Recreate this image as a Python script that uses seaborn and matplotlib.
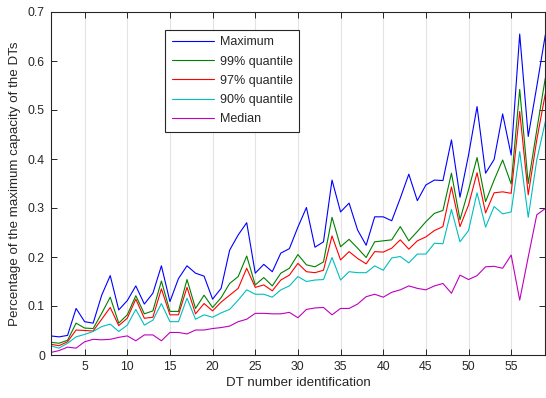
import matplotlib
matplotlib.use("Agg")
import matplotlib.pyplot as plt
import pandas as pd
import seaborn as sns

# DT identifiers on the x axis
dt_ids = list(range(1, 60))

# Share of the maximum DT capacity, per statistic
maximum = [0.039, 0.037, 0.040, 0.095, 0.068, 0.065, 0.122, 0.162, 0.092, 0.111,
           0.141, 0.104, 0.126, 0.182, 0.109, 0.156, 0.182, 0.167, 0.161, 0.114,
           0.136, 0.214, 0.245, 0.270, 0.167, 0.185, 0.170, 0.208, 0.217, 0.261,
           0.301, 0.220, 0.231, 0.357, 0.292, 0.310, 0.255, 0.224, 0.282, 0.282,
           0.274, 0.320, 0.369, 0.315, 0.347, 0.357, 0.356, 0.439, 0.322, 0.408,
           0.507, 0.371, 0.399, 0.492, 0.408, 0.655, 0.446, 0.548, 0.653]
q99 = [0.026, 0.024, 0.030, 0.065, 0.055, 0.054, 0.085, 0.118, 0.065, 0.082,
       0.121, 0.084, 0.090, 0.151, 0.089, 0.089, 0.154, 0.095, 0.122, 0.097,
       0.117, 0.146, 0.160, 0.202, 0.143, 0.158, 0.141, 0.167, 0.177, 0.205,
       0.184, 0.180, 0.190, 0.281, 0.221, 0.236, 0.218, 0.199, 0.231, 0.233,
       0.235, 0.262, 0.233, 0.252, 0.272, 0.289, 0.295, 0.371, 0.276, 0.337,
       0.403, 0.313, 0.357, 0.398, 0.349, 0.542, 0.350, 0.459, 0.565]
q97 = [0.022, 0.019, 0.027, 0.051, 0.050, 0.049, 0.073, 0.097, 0.060, 0.075,
       0.114, 0.075, 0.077, 0.135, 0.082, 0.082, 0.138, 0.084, 0.105, 0.090,
       0.108, 0.122, 0.136, 0.177, 0.138, 0.143, 0.131, 0.153, 0.163, 0.187,
       0.170, 0.168, 0.173, 0.243, 0.194, 0.211, 0.197, 0.186, 0.211, 0.210,
       0.218, 0.235, 0.216, 0.233, 0.241, 0.254, 0.262, 0.343, 0.262, 0.306,
       0.372, 0.290, 0.331, 0.333, 0.330, 0.497, 0.327, 0.439, 0.533]
q90 = [0.019, 0.014, 0.024, 0.037, 0.042, 0.048, 0.058, 0.063, 0.048, 0.061,
       0.093, 0.061, 0.071, 0.105, 0.068, 0.068, 0.116, 0.073, 0.082, 0.077,
       0.086, 0.093, 0.112, 0.133, 0.124, 0.124, 0.118, 0.133, 0.141, 0.160,
       0.150, 0.153, 0.154, 0.199, 0.153, 0.170, 0.168, 0.168, 0.182, 0.173,
       0.198, 0.201, 0.188, 0.206, 0.206, 0.228, 0.227, 0.297, 0.231, 0.254,
       0.331, 0.261, 0.303, 0.288, 0.292, 0.415, 0.281, 0.398, 0.476]
median = [0.005, 0.009, 0.016, 0.014, 0.027, 0.032, 0.031, 0.032, 0.036, 0.039,
          0.029, 0.041, 0.041, 0.029, 0.046, 0.046, 0.043, 0.051, 0.051, 0.054,
          0.056, 0.059, 0.068, 0.073, 0.085, 0.085, 0.084, 0.084, 0.087, 0.076,
          0.093, 0.096, 0.097, 0.082, 0.095, 0.095, 0.104, 0.119, 0.124, 0.118,
          0.128, 0.133, 0.141, 0.136, 0.133, 0.141, 0.146, 0.126, 0.163, 0.154,
          0.162, 0.180, 0.181, 0.177, 0.204, 0.112, 0.200, 0.286, 0.299]

series_names = ["Maximum", "99% quantile", "97% quantile", "90% quantile", "Median"]
series_colors = ["#0000ff", "#008000", "#ff0000", "#00bfbf", "#bf00bf"]

x_ticks = [5, 10, 15, 20, 25, 30, 35, 40, 45, 50, 55]
y_ticks = [0, 0.1, 0.2, 0.3, 0.4, 0.5, 0.6, 0.7]
y_tick_labels = ["0", "0.1", "0.2", "0.3", "0.4", "0.5", "0.6", "0.7"]

sns.set_theme(style="white")
plt.rcParams["font.family"] = ["Liberation Sans", "DejaVu Sans"]

wide = pd.DataFrame({"DT": dt_ids,
                     "Maximum": maximum,
                     "99% quantile": q99,
                     "97% quantile": q97,
                     "90% quantile": q90,
                     "Median": median})
long = wide.melt(id_vars="DT", var_name="series", value_name="share")

W, H = 546, 398
fig = plt.figure(figsize=(W / 100, H / 100), dpi=100)
left_px, right_px, top_px, bottom_px = 50.5, 545.3, 12, 355
ax = fig.add_axes([left_px / W, 1 - bottom_px / H,
                   (right_px - left_px) / W, (bottom_px - top_px) / H])

sns.lineplot(data=long, x="DT", y="share", hue="series",
             hue_order=series_names, palette=series_colors,
             linewidth=0.8, ax=ax)

ax.set_xlim(1, 59)
ax.set_ylim(0, 0.7)
ax.set_xticks(x_ticks)
ax.set_yticks(y_ticks)
ax.set_yticklabels(y_tick_labels)
ax.xaxis.grid(True, color="#e3e3e3", linewidth=0.8)
ax.yaxis.grid(False)
ax.set_axisbelow(True)

axis_grey = "#262626"
for sp in ax.spines.values():
    sp.set_color(axis_grey)
    sp.set_linewidth(0.8)
ax.tick_params(axis="both", which="major", direction="in", length=4,
               width=0.7, colors=axis_grey, labelsize=8.8,
               top=True, right=True, bottom=True, left=True, pad=4)

ax.set_xlabel("DT number identification", fontsize=9.6, color=axis_grey, labelpad=3)
ax.set_ylabel("Percentage of the maximum capacity of the DTs", fontsize=9.6,
              color=axis_grey, labelpad=5)

leg = ax.legend(loc="upper left", bbox_to_anchor=(0.232, 0.9475),
                borderaxespad=0, fontsize=9, frameon=True, fancybox=False,
                handlelength=3.4, handletextpad=0.45, labelspacing=0.58,
                borderpad=0.5, title=None)
leg.get_frame().set_edgecolor("#262626")
leg.get_frame().set_linewidth(0.8)
leg.get_frame().set_facecolor("white")
leg.get_frame().set_alpha(1.0)
for line in leg.get_lines():
    line.set_linewidth(0.8)

fig.savefig("out.png", dpi=100)
